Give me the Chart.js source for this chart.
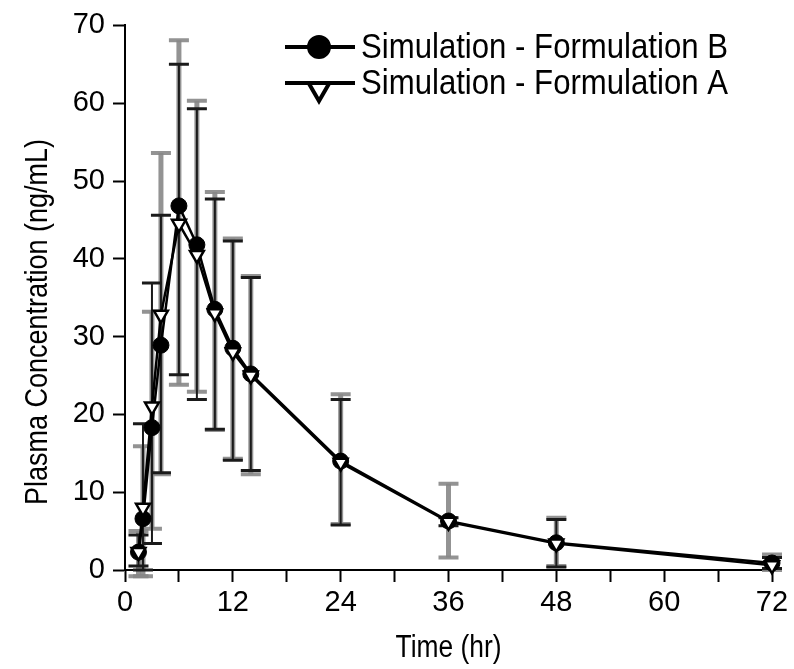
<!DOCTYPE html>
<html>
<head>
<meta charset="utf-8">
<script src="https://cdn.jsdelivr.net/npm/chart.js@4.4.1/dist/chart.umd.min.js"></script>
<style>
  body { margin: 0; background: #fff; }
  #wrap { width: 794px; height: 669px; }
</style>
</head>
<body>
<div id="wrap"><canvas id="myChart" width="794" height="669"></canvas></div>
<script>
// sampling times (hr)
let times = [1.5, 2, 3, 4, 6, 8, 10, 12, 14, 24, 36, 48, 72];

// mean plasma concentration (ng/mL)
let formB = [2.3, 6.6, 18.3, 28.9, 46.8, 41.8, 33.5, 28.5, 25.2, 14.0, 6.3, 3.5, 0.9];
let formA = [2.3, 8.0, 21.0, 32.8, 44.5, 40.5, 33.0, 28.0, 25.0, 13.8, 6.2, 3.4, 0.6];

// error bar ends, grey bars
let greyLow  = [-0.8, -0.8, 5.3, 12.3, 23.8, 22.9, 18.0, 14.3, 12.3, 5.9, 1.6, 0.5, 0.0];
let greyHigh = [5.0, 15.9, 33.2, 53.6, 68.1, 60.3, 48.6, 42.6, 37.8, 22.6, 11.1, 6.7, 2.0];
// error bar ends, black bars
let blackLow  = [0.5, 0.0, 3.4, 12.5, 25.1, 21.9, 18.1, 14.1, 12.8, 5.8, 5.7, 0.4, 0.2];
let blackHigh = [4.5, 18.8, 36.9, 45.6, 65.0, 59.3, 47.7, 42.3, 37.6, 21.9, 6.7, 6.5, 1.6];

let xTicks = [0, 12, 24, 36, 48, 60, 72];
let legendLabels = ['Simulation - Formulation B', 'Simulation - Formulation A'];
let yTitle = 'Plasma Concentration (ng/mL)';
let xTitle = 'Time (hr)';

const FONT = "'Liberation Sans', Arial, sans-serif";

function toPoints(xs, ys){
    let out = [];
    for (let i = 0; i < xs.length; i++){
        out.push({x: xs[i], y: ys[i]});
    }
    return out;
}

function drawBars(chart, lows, highs, color, width, capW, capLine){
    const ctx = chart.ctx;
    const xs = chart.scales.x;
    const ys = chart.scales.y;
    ctx.save();
    ctx.strokeStyle = color;
    for (let i = 0; i < times.length; i++){
        let px = xs.getPixelForValue(times[i]);
        let y1 = ys.getPixelForValue(lows[i]);
        let y2 = ys.getPixelForValue(highs[i]);
        ctx.lineWidth = width;
        ctx.beginPath();
        ctx.moveTo(px, y1);
        ctx.lineTo(px, y2);
        ctx.stroke();
        ctx.lineWidth = capLine;
        ctx.beginPath();
        ctx.moveTo(px - capW / 2, y1);
        ctx.lineTo(px + capW / 2, y1);
        ctx.moveTo(px - capW / 2, y2);
        ctx.lineTo(px + capW / 2, y2);
        ctx.stroke();
    }
    ctx.restore();
}

const errorBars = {
    id: 'errorBars',
    beforeDatasetsDraw(chart){
        drawBars(chart, greyLow, greyHigh, 'rgba(135,135,135,0.9)', 5, 20, 4);
        drawBars(chart, blackLow, blackHigh, '#1a1a1a', 2, 20, 3);
    }
};

// legend inside the plot + axis titles (original type is narrow, so squeeze with maxWidth)
const extras = {
    id: 'extras',
    afterDraw(chart){
        const ctx = chart.ctx;
        let rows = [
            {y: 47, style: 'circle', radius: 10, fill: '#000', rot: 0, my: 47},
            {y: 83, style: 'triangle', radius: 12, fill: '#fff', rot: 180, my: 89}
        ];
        ctx.save();
        for (let i = 0; i < rows.length; i++){
            let r = rows[i];
            ctx.strokeStyle = '#000';
            ctx.lineWidth = 4;
            ctx.beginPath();
            ctx.moveTo(285, r.y);
            ctx.lineTo(355, r.y);
            ctx.stroke();
            ctx.fillStyle = r.fill;
            ctx.strokeStyle = '#000';
            Chart.helpers.drawPoint(ctx, {pointStyle: r.style, radius: r.radius, rotation: r.rot, borderWidth: 2.5}, 319, r.my);
            ctx.fillStyle = '#000';
            ctx.font = '35px ' + FONT;
            ctx.textBaseline = 'middle';
            ctx.textAlign = 'left';
            ctx.fillText(legendLabels[i], 361, r.y + 1, 367);
        }

        ctx.fillStyle = '#000';
        ctx.textAlign = 'center';
        ctx.textBaseline = 'middle';
        ctx.font = '32px ' + FONT;
        ctx.save();
        ctx.translate(38, 322);
        ctx.rotate(-Math.PI / 2);
        ctx.fillText(yTitle, 0, 0, 366);
        ctx.restore();

        let cx = (chart.chartArea.left + chart.chartArea.right) / 2;
        ctx.font = '31px ' + FONT;
        ctx.fillText(xTitle, cx, 648, 106);
        ctx.restore();
    }
};

const ctx = document.getElementById('myChart');
new Chart(ctx, {
    type: 'line',
    data: {
        datasets: [{
            label: legendLabels[1],
            data: toPoints(times, formA),
            borderColor: '#000',
            borderWidth: 2.5,
            pointStyle: 'triangle',
            pointRotation: 180,
            pointRadius: 8,
            pointBackgroundColor: '#fff',
            pointBorderColor: '#000',
            pointBorderWidth: 2.5,
            clip: false
        }, {
            label: legendLabels[0],
            data: toPoints(times, formB),
            borderColor: '#000',
            borderWidth: 2.5,
            pointStyle: 'circle',
            pointRadius: 8,
            pointBackgroundColor: '#000',
            pointBorderColor: '#000',
            pointBorderWidth: 1,
            clip: false
        }]
    },
    options: {
        responsive: false,
        animation: false,
        events: [],
        layout: {padding: {top: 15, right: 22, left: 0, bottom: 0}},
        plugins: {
            legend: {display: false},
            tooltip: {enabled: false}
        },
        scales: {
            x: {
                type: 'linear',
                min: 0,
                max: 72,
                afterFit: function(scale){ scale.height = 99; },
                afterBuildTicks: function(scale){
                    let t = [];
                    for (let v = 0; v <= 72; v += 6) t.push({value: v});
                    scale.ticks = t;
                },
                ticks: {
                    color: '#000',
                    font: {family: FONT, size: 29},
                    padding: 4,
                    maxRotation: 0,
                    autoSkip: false,
                    callback: function(v){ return xTicks.includes(v) ? String(v) : ''; }
                },
                grid: {drawOnChartArea: false, color: '#000', tickLength: 12, tickWidth: 2},
                border: {color: '#000', width: 2}
            },
            y: {
                min: 0,
                max: 70,
                afterFit: function(scale){ scale.width = 125; },
                ticks: {
                    stepSize: 10,
                    color: '#000',
                    font: {family: FONT, size: 29},
                    padding: 8
                },
                grid: {drawOnChartArea: false, color: '#000', tickLength: 12, tickWidth: 2},
                border: {color: '#000', width: 2}
            }
        }
    },
    plugins: [errorBars, extras]
});
</script>
</body>
</html>
